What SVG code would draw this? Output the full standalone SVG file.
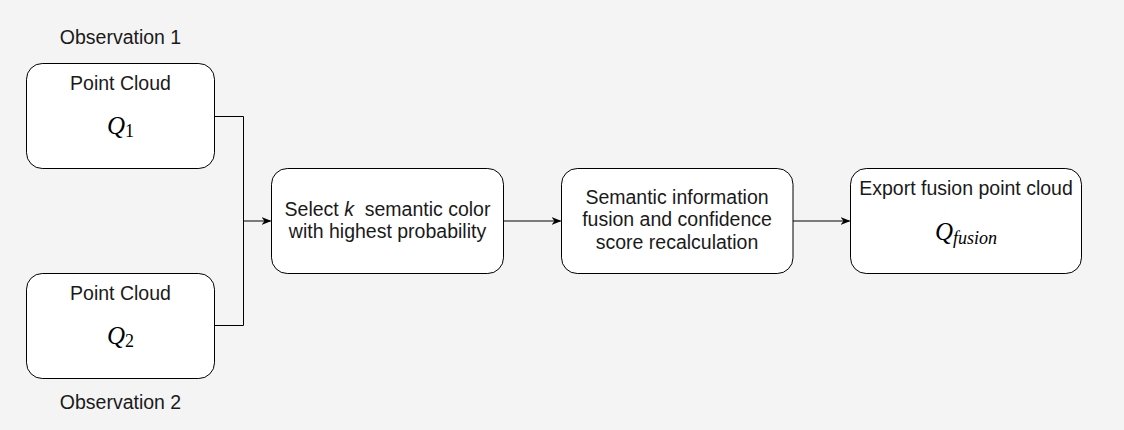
<svg xmlns="http://www.w3.org/2000/svg" width="1124" height="430" viewBox="0 0 1124 430">
<defs>
<style>
.box{fill:#ffffff;stroke:#000000;stroke-width:1}
.t{font-family:"Liberation Sans",Arial,sans-serif;font-size:19.5px;fill:#1a1a1a;text-anchor:middle}
.m{font-family:"Liberation Serif","DejaVu Serif",serif;font-style:italic;font-size:25px;fill:#000;text-anchor:middle}
.sub{font-family:"Liberation Serif","DejaVu Serif",serif;font-size:18px;font-style:normal}
.subi{font-family:"Liberation Serif","DejaVu Serif",serif;font-size:18px;font-style:italic}
.edge{fill:none;stroke:#000000;stroke-width:1}
</style>
<marker id="arr" viewBox="0 0 10 10" refX="9" refY="5" markerWidth="10" markerHeight="10" markerUnits="userSpaceOnUse" orient="auto">
<path d="M0,1 L10,5 L0,9 L3,5 Z" fill="#000"/>
</marker>
</defs>
<rect width="1124" height="430" fill="#f4f4f4"/>
<g id="connectors">
<polyline class="edge" points="214,116.5 243.5,116.5 243.5,325.5 214,325.5"/>
<line class="edge" x1="243.5" y1="221" x2="270.5" y2="221" marker-end="url(#arr)"/>
<line class="edge" x1="503.5" y1="221" x2="560.5" y2="221" marker-end="url(#arr)"/>
<line class="edge" x1="793" y1="221" x2="849.5" y2="221" marker-end="url(#arr)"/>
</g>
<g id="label-obs1"><text class="t" x="120.5" y="44">Observation 1</text></g>
<g id="node-pc1">
<rect class="box" x="26.5" y="63.5" width="188" height="105" rx="15.75"/>
<text class="t" x="120.5" y="90">Point Cloud</text>
<text class="m" x="120.5" y="134">Q<tspan class="sub" dy="3">1</tspan></text>
</g>
<g id="node-pc2">
<rect class="box" x="26.5" y="273.5" width="188" height="105" rx="15.75"/>
<text class="t" x="120.5" y="300">Point Cloud</text>
<text class="m" x="120.5" y="344">Q<tspan class="sub" dy="3">2</tspan></text>
</g>
<g id="label-obs2"><text class="t" x="120.5" y="409">Observation 2</text></g>
<g id="node-select">
<rect class="box" x="271.5" y="168.5" width="232" height="105" rx="15.75"/>
<text class="t" x="387.5" y="216" xml:space="preserve">Select <tspan font-style="italic">k</tspan>  semantic color</text>
<text class="t" x="387.5" y="238">with highest probability</text>
</g>
<g id="node-fusion">
<rect class="box" x="561.5" y="168.5" width="231.5" height="105" rx="15.75"/>
<text class="t" x="677" y="204">Semantic information</text>
<text class="t" x="677" y="226">fusion and confidence</text>
<text class="t" x="677" y="249">score recalculation</text>
</g>
<g id="node-export">
<rect class="box" x="850.5" y="168.5" width="231" height="105" rx="15.75"/>
<text class="t" x="966" y="195">Export fusion point cloud</text>
<text class="m" x="966" y="240">Q<tspan class="subi" dy="4">fusion</tspan></text>
</g>
</svg>
